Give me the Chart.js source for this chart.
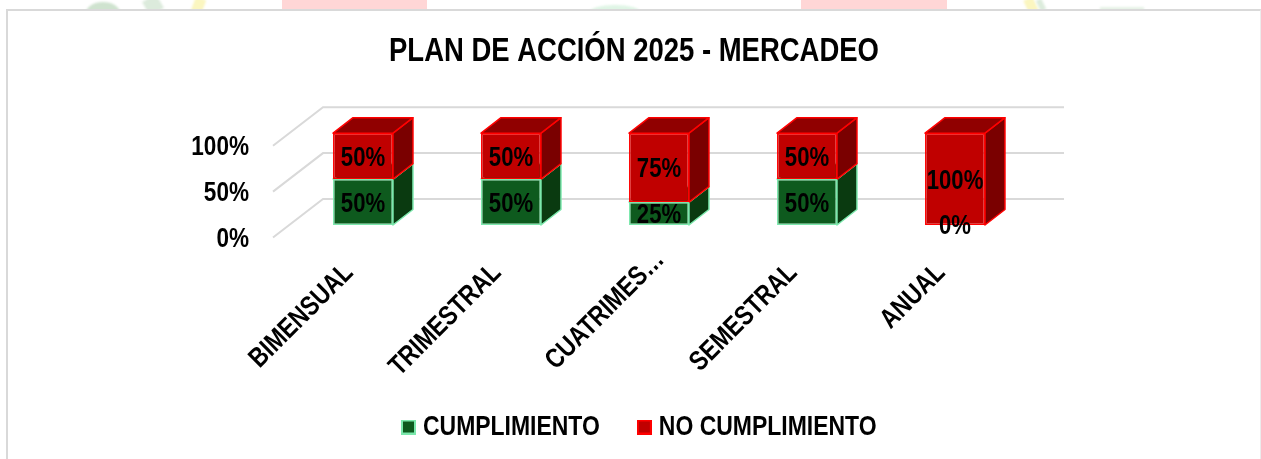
<!DOCTYPE html>
<html>
<head>
<meta charset="utf-8">
<style>
html,body{margin:0;padding:0;background:#fff;overflow:hidden;width:1261px;height:459px}
#wm{position:absolute;left:0;top:0;width:1261px;height:10px;overflow:hidden}
#wm div{position:absolute;filter:blur(1px)}
#panel{position:absolute;left:6px;top:9px;width:1255px;height:460px;border:2px solid #d9d9d9;border-right-width:1px;border-right-color:#ececec;box-sizing:border-box;background:#fff}
canvas{position:absolute;left:0;top:0}
</style>
</head>
<body>
<div id="wm">
<div style="left:282px;top:-2px;width:145px;height:14px;background:#ffd6d6;filter:none"></div>
<div style="left:801px;top:-2px;width:146px;height:14px;background:#ffd6d6;filter:none"></div>
<div style="left:86px;top:2px;width:34px;height:22px;border-radius:50%;background:#cfe3cf"></div>
<div style="left:145px;top:-3px;width:16px;height:16px;background:#dcebdc;transform:rotate(-30deg)"></div>
<div style="left:193px;top:-2px;width:11px;height:15px;background:#fbf6c0;transform:rotate(20deg)"></div>
<div style="left:590px;top:5px;width:50px;height:14px;border-radius:50%;background:#dff5e5"></div>
<div style="left:1026px;top:-2px;width:10px;height:15px;background:#fbf6c0;transform:rotate(-25deg)"></div>
<div style="left:1038px;top:-1px;width:6px;height:12px;background:#dcecdc;transform:rotate(-25deg)"></div>
<div style="left:1100px;top:7px;width:44px;height:6px;background:#e6f2e6"></div>
</div>
<div id="panel"></div>
<canvas id="c" width="1261" height="459"></canvas>
<script src="https://cdn.jsdelivr.net/npm/chart.js@4/dist/chart.umd.min.js"></script>
<script>
const categories = ["BIMENSUAL","TRIMESTRAL","CUATRIMESTRAL","SEMESTRAL","ANUAL"];
const tickLabels = ["BIMENSUAL","TRIMESTRAL","CUATRIMES…","SEMESTRAL","ANUAL"];
const cumplimiento = [50,50,25,50,0];
const noCumplimiento = [50,50,75,50,100];
const seriesNames = ["CUMPLIMIENTO","NO CUMPLIMIENTO"];
const titleText = "PLAN DE ACCIÓN 2025 - MERCADEO";

const FONT = '"Liberation Sans",Arial,sans-serif';
const canvas = document.getElementById('c');
const ctx0 = canvas.getContext('2d');

// The reference uses a narrow face; condense all canvas text the same way.
const NARROW = 0.82;
const rawMeasure = ctx0.measureText.bind(ctx0);
const rawFill = ctx0.fillText.bind(ctx0);
ctx0.measureText = t => ({width: rawMeasure(t).width * NARROW});
ctx0.fillText = (t, x, y) => rawFill(t, x, y, rawMeasure(t).width * NARROW);

const faces = [
  {top:'#0a3a10', side:'#0a3a10', line:'#7be8ac'},
  {top:'#900000', side:'#7a0000', line:'#ff0000'}
];
const DX = 20, DY = -15.5;

function swatch(fill, line){
  const s = document.createElement('canvas');
  s.width = 15; s.height = 15;
  const g = s.getContext('2d');
  g.fillStyle = line; g.fillRect(0,0,15,15);
  g.fillStyle = fill; g.fillRect(2,2,11,11);
  return s;
}

const wall = {
  id:'wall',
  afterLayout(ch){
    ch.scales.x.bottom = ch.height;
    ch.legend.left += 16.5;
    ch.legend.top += -8;
  },
  beforeDraw(ch){
    // the truncated label sits further along its slant in the reference
    const item = ch.scales.x.getLabelItems(ch.chartArea)[2];
    item.options.translation = [item.options.translation[0]+15, item.options.translation[1]-13];
  },
  beforeDatasetsDraw(ch){
    const {ctx, scales:{y}} = ch;
    ctx.save();
    ctx.strokeStyle='#d9d9d9'; ctx.lineWidth=2;
    y.ticks.forEach(t=>{
      const py=y.getPixelForValue(t.value)+12.5;
      ctx.beginPath();
      ctx.moveTo(273,py);
      ctx.lineTo(323,py-38.5);
      ctx.lineTo(1064,py-38.5);
      ctx.stroke();
    });
    ch.data.datasets.forEach((ds,di)=>{
      const f=faces[di];
      ch.getDatasetMeta(di).data.forEach((b,i)=>{
        if(!ds.data[i]) return;
        const l=b.x-b.width/2, r=b.x+b.width/2, t=b.y, bt=b.base;
        ctx.lineWidth=1.5; ctx.strokeStyle=f.line; ctx.lineJoin='round';
        ctx.fillStyle=f.side;
        ctx.beginPath();
        ctx.moveTo(r,t);ctx.lineTo(r+DX,t+DY);ctx.lineTo(r+DX,bt+DY);ctx.lineTo(r,bt);ctx.closePath();
        ctx.fill();ctx.stroke();
        ctx.fillStyle=f.top;
        ctx.beginPath();
        ctx.moveTo(l,t);ctx.lineTo(l+DX,t+DY);ctx.lineTo(r+DX,t+DY);ctx.lineTo(r,t);ctx.closePath();
        ctx.fill();ctx.stroke();
      });
    });
    ctx.restore();
  }
};
const valueLabels = {
  id:'valueLabels',
  afterDatasetsDraw(ch){
    const {ctx}=ch;
    ctx.save();
    ctx.font='bold 27px '+FONT; ctx.fillStyle='#000';
    ctx.textAlign='center'; ctx.textBaseline='middle';
    ch.data.datasets.forEach((ds,di)=>{
      ch.getDatasetMeta(di).data.forEach((b,i)=>{
        ctx.fillText(ds.data[i]+'%', b.x, (b.y+b.base)/2+2);
      });
    });
    ctx.restore();
  }
};

new Chart(canvas,{
  type:'bar',
  data:{
    labels:categories,
    datasets:[
      {label:seriesNames[0],data:cumplimiento,backgroundColor:'#0e5a1e',borderColor:'#7be8ac',borderWidth:cumplimiento.map(v=>v?1.5:0),borderSkipped:false,pointStyle:swatch('#0e5a1e','#7be8ac')},
      {label:seriesNames[1],data:noCumplimiento,backgroundColor:'#c00000',borderColor:'#ff0000',borderWidth:1.5,borderSkipped:false,pointStyle:swatch('#c00000','#ff0000')}
    ]
  },
  options:{
    responsive:false,animation:false,
    layout:{padding:{left:7,right:0,top:0,bottom:0}},
    datasets:{bar:{categoryPercentage:1,barPercentage:0.405}},
    plugins:{
      title:{display:true,text:titleText,color:'#000',font:{family:FONT,size:33.5,weight:'bold',lineHeight:1.2},padding:{top:32,bottom:61}},
      legend:{position:'bottom',labels:{usePointStyle:true,pointStyleWidth:1,boxHeight:13,padding:44,color:'#000',font:{family:FONT,size:28,weight:'bold'}}},
      tooltip:{enabled:false}
    },
    scales:{
      x:{stacked:true,grid:{display:false},border:{display:false},
        afterFit(s){s.height=152;},
        ticks:{autoSkip:false,minRotation:45,maxRotation:45,padding:24,labelOffset:-14,color:'#000',font:{family:FONT,size:27.5,weight:'bold'},
          callback(v,i){return tickLabels[i];}}},
      y:{stacked:true,min:0,max:100,grid:{display:false},border:{display:false},
        afterFit(s){s.width=282;},
        ticks:{stepSize:50,padding:32,labelOffset:14,color:'#000',font:{family:FONT,size:27.5,weight:'bold'},
          callback(v){return v+'%';}}},
      yPad:{position:'right',min:0,max:100,grid:{display:false},border:{display:false},ticks:{display:false},
        afterFit(s){s.width=232;}}
    }
  },
  plugins:[wall,valueLabels]
});
</script>
</body>
</html>
